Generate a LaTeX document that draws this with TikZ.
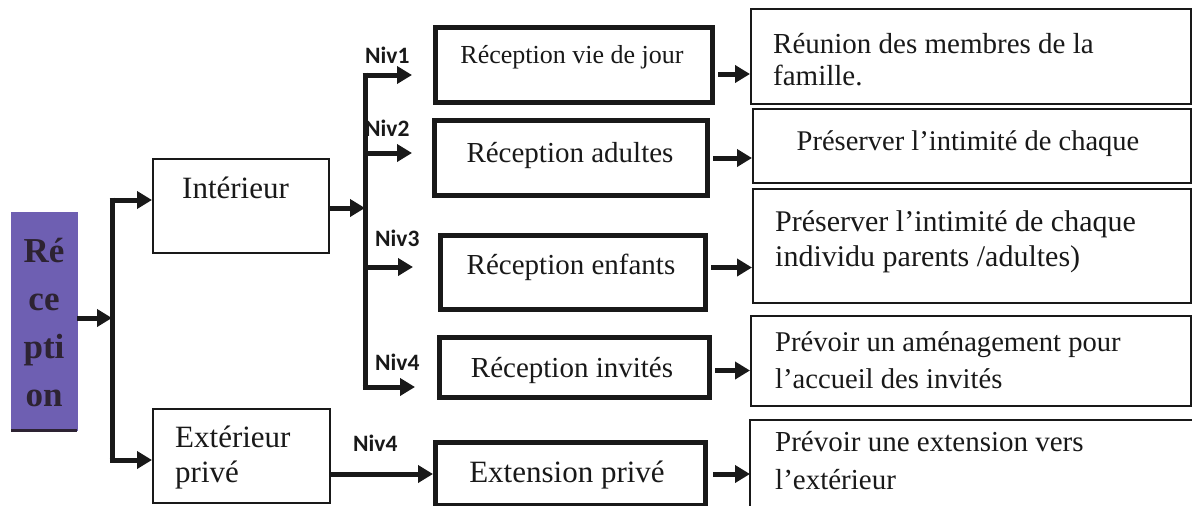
\documentclass[tikz,border=0pt]{standalone}
\usepackage{fontspec}
\setmainfont{Liberation Serif}
\newfontfamily\nivfont{Carlito}
\usetikzlibrary{arrows.meta}
\definecolor{recpurple}{RGB}{110,95,178}
\definecolor{recdark}{RGB}{45,35,50}
\definecolor{ink}{RGB}{25,25,25}
\tikzset{
  bx/.style={draw=ink, line width=1.8pt, fill=white, inner sep=0pt, anchor=north west},
  thickbx/.style={draw=ink, line width=5pt, fill=white, inner sep=0pt, anchor=north west},
  conn/.style={draw=ink, line width=5pt},
  arr/.style={draw=ink, line width=5pt, -{Triangle[length=15pt,width=17pt]}},
  niv/.style={font=\nivfont\bfseries\fontsize{23.5}{24}\selectfont, text=ink, inner sep=0pt, anchor=base west},
  lbl/.style={inner sep=0pt, anchor=base west, text=ink},
  ctr/.style={inner sep=0pt, anchor=base, text=ink},
}
\begin{document}
\begin{tikzpicture}[x=1pt,y=-1pt]
\useasboundingbox (0,0) rectangle (1192,506);
\clip (0,0) rectangle (1192,506);
\fill[white] (0,0) rectangle (1192,506);

% Réception
\node[fill=recpurple, draw=recpurple, minimum width=66pt, minimum height=218pt, inner sep=0pt, anchor=north west] (rec) at (11,212) {};
\draw[recdark, line width=2.5pt] (rec.south west) -- (rec.south east);
\node[ctr, font=\bfseries\fontsize{35}{48}\selectfont, text=recdark, align=center, anchor=north] (rect) at (44,238) {Ré\\ce\\pti\\on};

% level 1 boxes
\node[bx, minimum width=176pt, minimum height=94pt] (int) at (152,158) {};
\node[lbl, font=\fontsize{31}{36}\selectfont] (intt) at (182,198) {Intérieur};
\node[bx, minimum width=177pt, minimum height=94pt] (ext) at (152,408) {};
\node[lbl, font=\fontsize{31}{36}\selectfont] (extt1) at (175,447) {Extérieur};
\node[lbl, font=\fontsize{31}{36}\selectfont] (extt2) at (175,482) {privé};

% level 2 boxes
\node[thickbx, minimum width=277pt, minimum height=75pt] (rvj) at (433,25) {};
\node[ctr, font=\fontsize{26}{30}\selectfont] (rvjt) at (572,63) {Réception vie de jour};
\node[thickbx, minimum width=273pt, minimum height=75pt] (rad) at (432,118) {};
\node[ctr, font=\fontsize{29}{30}\selectfont] (radt) at (570,162) {Réception adultes};
\node[thickbx, minimum width=265pt, minimum height=74pt] (ren) at (438,233) {};
\node[ctr, font=\fontsize{29}{30}\selectfont] (rent) at (571,274) {Réception enfants};
\node[thickbx, minimum width=270pt, minimum height=60pt] (rin) at (437,335) {};
\node[ctr, font=\fontsize{29}{30}\selectfont] (rint) at (572,377) {Réception invités};
\node[thickbx, minimum width=270pt, minimum height=63pt] (rex) at (433,440) {};
\node[ctr, font=\fontsize{31}{30}\selectfont] (rext) at (567,482) {Extension privé};

% level 3 boxes
\node[bx, minimum width=440pt, minimum height=95pt] (ba) at (750,8) {};
\node[lbl, font=\fontsize{29}{32}\selectfont, align=left, anchor=north west] (bat) at (773,33) {Réunion des membres de la\\famille.};
\node[bx, minimum width=438pt, minimum height=74pt] (bb) at (752,108) {};
\node[ctr, font=\fontsize{28.5}{32}\selectfont] (bbt) at (968,150) {Préserver l’intimité de chaque};
\node[bx, minimum width=438pt, minimum height=114pt] (bc) at (752,188) {};
\node[lbl, font=\fontsize{30}{35}\selectfont, align=left, anchor=north west] (bct) at (775,210) {Préserver l’intimité de chaque\\individu parents /adultes)};
\node[bx, minimum width=440pt, minimum height=90pt] (bd) at (750,315) {};
\node[lbl, font=\fontsize{28.6}{37}\selectfont, align=left, anchor=north west] (bdt) at (775,331) {Prévoir un aménagement pour\\l’accueil des invités};
\node[inner sep=0pt, minimum width=442pt, minimum height=100pt, anchor=north west] (be) at (750,420) {};
\draw[ink, line width=1.8pt] (be.south west) -- (be.north west) -- (be.north east);
\node[lbl, font=\fontsize{29}{38}\selectfont, align=left, anchor=north west] (bet) at (775,431) {Prévoir une extension vers\\l’extérieur};

% Niv labels
\node[niv] (n1) at (365,63) {Niv1};
\node[niv] (n2) at (365,136) {Niv2};
\node[niv] (n3) at (375,246) {Niv3};
\node[niv] (n4) at (375,370) {Niv4};
\node[niv] (n5) at (353,451) {Niv4};

% bus 1
\coordinate (b1t) at (112,200);
\coordinate (b1b) at (112,460);
\coordinate (b1m) at (112,318);
\draw[conn] ([yshift=2.5pt]b1t) -- ([yshift=-2.5pt]b1b);
\draw[arr] (rec.east |- b1m) -- (b1m);
\draw[arr] ([xshift=-2.5pt]b1t) -- (b1t -| int.west);
\draw[arr] ([xshift=-2.5pt]b1b) -- (b1b -| ext.west);

% bus 2
\coordinate (b2t) at (365,75);
\coordinate (b2b) at (365,387);
\coordinate (b2j) at (365,208);
\coordinate (b2c) at (365,153);
\coordinate (b2d) at (365,267);
\draw[conn] ([yshift=2.5pt]b2t) -- ([yshift=-2.5pt]b2b);
\draw[arr] (int.east |- b2j) -- (b2j);
\draw[arr, shorten >=21pt] ([xshift=-2.5pt]b2t) -- (b2t -| rvj.west);
\draw[arr, shorten >=20pt] (b2c) -- (b2c -| rad.west);
\draw[arr, shorten >=25pt] (b2d) -- (b2d -| ren.west);
\draw[arr, shorten >=22pt] ([xshift=-2.5pt]b2b) -- (b2b -| rin.west);

% exterior to extension
\draw[arr] (ext.east |- rex.west) -- (rex.west);

% level 2 -> level 3
\draw[arr, shorten <=3pt] ([yshift=-9pt]rvj.east) -- ([yshift=-9pt]rvj.east -| ba.west);
\draw[arr, shorten <=3pt] (rad.east) -- (rad.east -| bb.west);
\draw[arr, shorten <=3pt] ([yshift=5pt]ren.east) -- ([yshift=5pt]ren.east -| bc.west);
\draw[arr, shorten <=3pt] ([yshift=-3pt]rin.east) -- ([yshift=-3pt]rin.east -| bd.west);
\draw[arr, shorten <=5pt] (rex.east) -- (rex.east -| be.west);
\end{tikzpicture}
\end{document}
